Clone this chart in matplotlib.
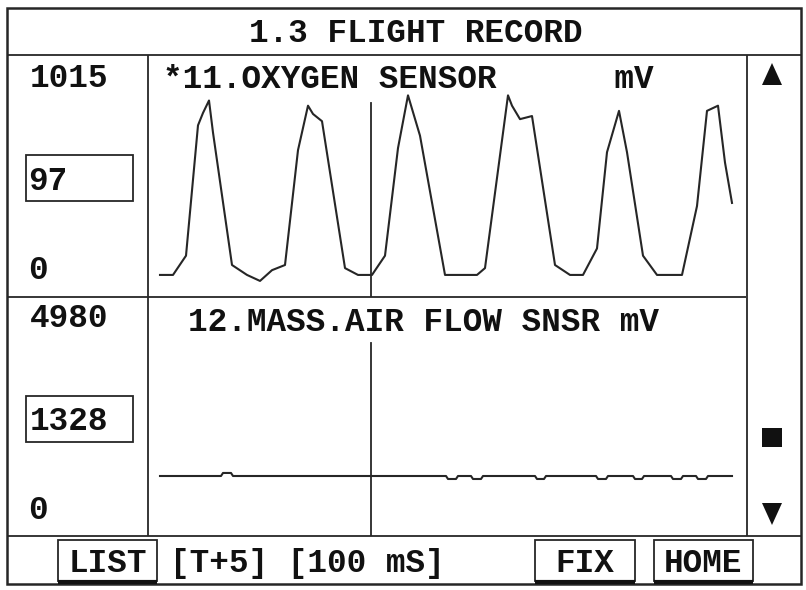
import matplotlib
matplotlib.use("Agg")
import matplotlib.pyplot as plt
from matplotlib.patches import Rectangle, Polygon

# ---------------- data ----------------
title = "1.3 FLIGHT RECORD"
top_label = "*11.OXYGEN SENSOR      mV"
bottom_label = "12.MASS.AIR FLOW SNSR mV"
top_scale_max = 1015
bottom_scale_max = 4980
top_current = 97
bottom_current = 1328
cursor_t = 2.23  # s
footer_text = "[T+5] [100 mS]"
buttons = ["LIST", "FIX", "HOME"]

o2_time = [0.12, 0.25, 0.38, 0.50, 0.55, 0.61, 0.65, 0.84, 0.99, 1.12, 1.24, 1.37,
           1.50, 1.60, 1.65, 1.74, 1.97, 2.10, 2.24, 2.37, 2.50, 2.60, 2.72, 2.97,
           3.29, 3.37, 3.60, 3.64, 3.72, 3.84, 4.07, 4.22, 4.35, 4.49, 4.59, 4.71,
           4.79, 4.95, 5.09, 5.34, 5.49, 5.59, 5.70, 5.77, 5.84]
o2_mv = [97, 97, 190, 820, 880, 940, 785, 145, 97, 68, 120, 145,
         700, 915, 875, 840, 130, 97, 97, 190, 710, 965, 770, 97,
         97, 130, 965, 915, 850, 865, 145, 97, 97, 225, 690, 890,
         690, 190, 97, 97, 430, 890, 915, 640, 445]

maf_time = [0.12, 0.73, 0.75, 0.83, 0.85, 2.98, 3.00, 3.08, 3.10, 3.23, 3.25, 3.33, 3.35,
            3.87, 3.89, 3.96, 3.98, 4.48, 4.50, 4.58, 4.60, 4.85, 4.87, 4.94, 4.96,
            5.23, 5.25, 5.33, 5.35, 5.48, 5.50, 5.58, 5.60, 5.84]
maf_mv = [1328, 1328, 1400, 1400, 1328, 1328, 1257, 1257, 1328, 1328, 1257, 1257, 1328,
          1328, 1257, 1257, 1328, 1328, 1257, 1257, 1328, 1328, 1257, 1257, 1328,
          1328, 1257, 1257, 1328, 1328, 1257, 1257, 1328, 1328]

# ---------------- layout ----------------
W, H = 806, 590
INK = "#262626"
FONT = dict(family="Liberation Mono", weight="bold", size=23.5, color="#111111")

fig = plt.figure(figsize=(W / 100, H / 100), dpi=100)
fig.patch.set_facecolor("white")
frame = fig.add_axes([0, 0, 1, 1])
frame.set_xlim(0, W)
frame.set_ylim(H, 0)
frame.axis("off")

def hline(y, x0, x1, lw=1.3):
    frame.plot([x0, x1], [y, y], color=INK, lw=lw, solid_capstyle="butt")

def vline(x, y0, y1, lw=1.3):
    frame.plot([x, x], [y0, y1], color=INK, lw=lw, solid_capstyle="butt")

# outer border
frame.add_patch(Rectangle((7, 8), 794, 576, fill=False, ec=INK, lw=1.8))
hline(54.5, 7, 801)
hline(297, 7, 746)
hline(536, 7, 801)
vline(148, 54.5, 536)
vline(746.5, 54.5, 536)

# title
frame.text(416, 42, title, ha="center", va="baseline", **FONT)

# left column
frame.text(30, 87, str(top_scale_max), ha="left", va="baseline", **FONT)
frame.add_patch(Rectangle((26, 155), 107, 46, fill=False, ec=INK, lw=1.3))
frame.text(28, 190, str(top_current), ha="left", va="baseline", **FONT)
frame.text(28, 279, "0", ha="left", va="baseline", **FONT)

frame.text(30, 327, str(bottom_scale_max), ha="left", va="baseline", **FONT)
frame.add_patch(Rectangle((26, 396), 107, 46, fill=False, ec=INK, lw=1.3))
frame.text(30, 430, str(bottom_current), ha="left", va="baseline", **FONT)
frame.text(28, 519, "0", ha="left", va="baseline", **FONT)

# channel labels
frame.text(163, 88, top_label, ha="left", va="baseline", **FONT)
frame.text(188, 331, bottom_label, ha="left", va="baseline", **FONT)

# scroll column symbols
frame.add_patch(Polygon([(762, 85), (782, 85), (772, 63)], closed=True, fc="#111111", ec="none"))
frame.add_patch(Rectangle((762, 428), 20, 19, fc="#111111", ec="none"))
frame.add_patch(Polygon([(762, 503), (782, 503), (772, 525)], closed=True, fc="#111111", ec="none"))

# footer buttons
btn_boxes = {"LIST": (58, 157), "FIX": (535, 635), "HOME": (654, 753)}
for name in buttons:
    x0, x1 = btn_boxes[name]
    frame.add_patch(Rectangle((x0, 540), x1 - x0, 41, fill=False, ec=INK, lw=1.3))
    frame.plot([x0, x1], [582, 582], color="#111111", lw=3.0, solid_capstyle="butt")
    frame.text((x0 + x1) / 2, 572, name, ha="center", va="baseline", **FONT)
frame.text(170, 572, footer_text, ha="left", va="baseline", **FONT)

# ---------------- data axes ----------------
X0, X1 = 148, 746
T_MAX = 5.98

def data_axes(py_top, py_bot, py_zero, px_full, scale_max):
    ax = fig.add_axes([X0 / W, (H - py_bot) / H, (X1 - X0) / W, (py_bot - py_top) / H])
    ax.set_xlim(0, T_MAX)
    per_px = scale_max / px_full
    lo = -(py_bot - py_zero) * per_px
    ax.set_ylim(lo, lo + (py_bot - py_top) * per_px)
    ax.axis("off")
    ax.patch.set_alpha(0)
    return ax

ax_top = data_axes(54.5, 297, 295, 210, top_scale_max)
ax_top.plot(o2_time, o2_mv, color=INK, lw=1.5)
ax_top.axvline(cursor_t, ymin=0, ymax=(297 - 103) / (297 - 54.5), color=INK, lw=1.3)

ax_bot = data_axes(297, 536, 532, 210, bottom_scale_max)
ax_bot.plot(maf_time, maf_mv, color=INK, lw=1.5)
ax_bot.axvline(cursor_t, ymin=0, ymax=(536 - 343) / (536 - 297), color=INK, lw=1.3)

fig.savefig("out.png", dpi=100, facecolor="white")
